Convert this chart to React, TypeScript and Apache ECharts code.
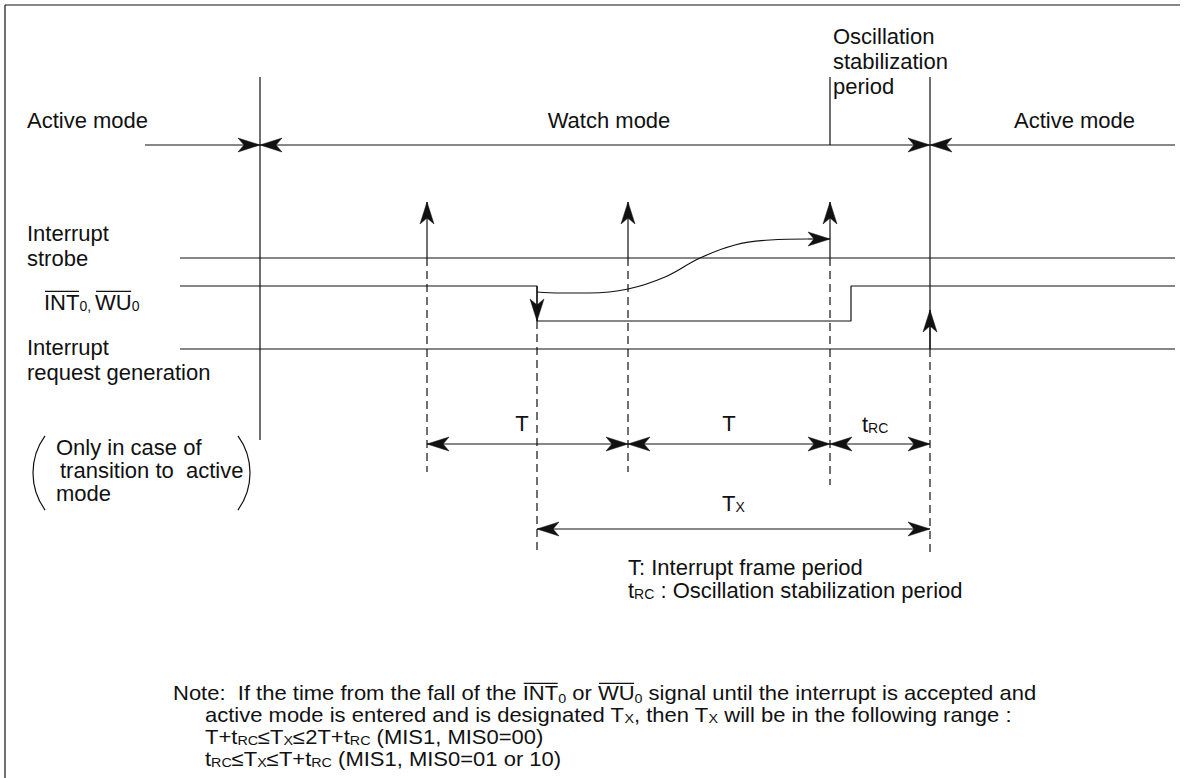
import { useEffect, useRef } from 'react';
import * as echarts from 'echarts';

const W = 1187;
const H = 778;
const FAMILY = '"Liberation Sans", Arial, Helvetica, sans-serif';
const INK = '#111';
const FS = 22;
const SUB = 14;
const NOTE_FS = 20;
const NOTE_SUB = 13;
const NOTE_SX = 1.1;

// ---- timeline positions (x units) ----
const modeEdges = [260, 930]; // enter watch mode, back to active mode
const oscStart = 830; // oscillation stabilization begins
const strobeTimes = [427, 628, 830]; // interrupt strobe pulses
const strobeDashEnds = [472, 472, 485];
const fallTime = 537; // INT0/WU0 falls
const riseTime = 851; // INT0/WU0 rises
const requestTime = 930; // interrupt request generated
const lineStart = 180;
const modeLineStart = 145;
const lineEnd = 1175;
const boundaryTop = 77;
const leftBoundaryBottom = 440;
const strobeArrowTip = 202;
const requestArrowTip = 310;
const longDashEnd = 555;

// ---- signal levels (y units, top -> down) ----
const modeLevel = 145;
const strobeLevel = 258;
const intHigh = 286;
const intLow = 321;
const requestLevel = 349;
const dimLevels = [444, 529];

// INT0 / WU0 waveform
const intWaveX = [lineStart, fallTime, fallTime, riseTime, riseTime, lineEnd];
const intWaveY = [intHigh, intHigh, intLow, intLow, intHigh, intHigh];

// curve from the falling edge to the strobe that samples it
const curveX = [537, 560, 590, 628, 665, 700, 735, 770, 808];
const curveY = [292, 293, 293, 289, 277, 258, 245, 240, 239];

let mctx: CanvasRenderingContext2D | null = null;
function measure(t: string, s: number): number {
  if (!mctx) mctx = document.createElement('canvas').getContext('2d');
  if (!mctx) return t.length * s * 0.5;
  mctx.font = `${s}px ${FAMILY}`;
  return mctx.measureText(t).width;
}

type Run = { t: string; s?: number; dy?: number; over?: boolean };

function textEl(x: number, y: number, text: string, s: number, align = 'left', va = 'middle', sx = 1) {
  return {
    type: 'text',
    x,
    y,
    scaleX: sx,
    silent: true,
    style: {
      text,
      fontSize: s,
      fontFamily: FAMILY,
      fill: INK,
      align,
      verticalAlign: va,
      textAlign: align,
      textVerticalAlign: va,
    },
  };
}

// lay out runs on one line; y = vertical middle of the base-size text
function runLine(x: number, y: number, runs: Run[], base = FS, sx = 1): any[] {
  const els: any[] = [];
  let cx = x;
  const yb = y + base / 2; // bottom of base-size box
  for (const r of runs) {
    const s = r.s ?? base;
    const w = measure(r.t, s) * sx;
    els.push(textEl(cx, yb + (r.dy ?? 0), r.t, s, 'left', 'bottom', sx));
    if (r.over) {
      const oy = yb - s * 0.98;
      els.push({
        type: 'line',
        silent: true,
        shape: { x1: cx + 1, y1: oy, x2: cx + w - 0.5, y2: oy },
        style: { stroke: INK, lineWidth: 1.2 },
      });
    }
    cx += w;
  }
  return els;
}

function buildSegments(): number[][] {
  const segs: number[][] = [];
  // [x1, y1, x2, y2, headAtStart, headAtEnd, dashed]
  segs.push([modeEdges[0], boundaryTop, modeEdges[0], leftBoundaryBottom, 0, 0, 0]);
  segs.push([oscStart, boundaryTop, oscStart, modeLevel, 0, 0, 0]);
  segs.push([modeEdges[1], boundaryTop, modeEdges[1], requestLevel, 0, 0, 0]);
  segs.push([modeLineStart, modeLevel, modeEdges[0], modeLevel, 0, 1, 0]);
  segs.push([modeEdges[0], modeLevel, modeEdges[1], modeLevel, 1, 1, 0]);
  segs.push([modeEdges[1], modeLevel, lineEnd, modeLevel, 1, 0, 0]);
  strobeTimes.forEach((t, i) => {
    segs.push([t, strobeLevel, t, strobeArrowTip, 0, 1, 0]);
    segs.push([t, strobeLevel, t, strobeDashEnds[i], 0, 0, 1]);
  });
  segs.push([fallTime, intHigh, fallTime, intLow, 0, 1, 0]);
  segs.push([fallTime, intLow, fallTime, longDashEnd, 0, 0, 1]);
  segs.push([requestTime, requestLevel, requestTime, requestArrowTip, 0, 1, 0]);
  segs.push([requestTime, requestLevel, requestTime, longDashEnd, 0, 0, 1]);
  const cl = curveX.length - 1;
  segs.push([curveX[cl], curveY[cl], strobeTimes[2], curveY[cl], 0, 1, 0]);
  // dimension arrows
  segs.push([strobeTimes[0], dimLevels[0], strobeTimes[1], dimLevels[0], 1, 1, 0]);
  segs.push([strobeTimes[1], dimLevels[0], strobeTimes[2], dimLevels[0], 1, 1, 0]);
  segs.push([strobeTimes[2], dimLevels[0], requestTime, dimLevels[0], 1, 1, 0]);
  segs.push([fallTime, dimLevels[1], requestTime, dimLevels[1], 1, 1, 0]);
  return segs;
}

function arrowHead(tip: number[], from: number[]) {
  const dx = tip[0] - from[0];
  const dy = tip[1] - from[1];
  const len = Math.hypot(dx, dy) || 1;
  const ux = dx / len;
  const uy = dy / len;
  const nx = -uy;
  const ny = ux;
  const L = 22;
  const Wd = 7;
  const N = 6;
  const bx = tip[0] - ux * L;
  const by = tip[1] - uy * L;
  return {
    type: 'polygon',
    shape: {
      points: [
        [tip[0], tip[1]],
        [bx + nx * Wd, by + ny * Wd],
        [tip[0] - ux * (L - N), tip[1] - uy * (L - N)],
        [bx - nx * Wd, by - ny * Wd],
      ],
    },
    style: { fill: INK, stroke: INK, lineWidth: 0.5 },
  };
}

function buildGraphics(): any[] {
  const g: any[] = [];
  // frame
  g.push({ type: 'line', silent: true, shape: { x1: 5, y1: 5, x2: 1180, y2: 5 }, style: { stroke: INK, lineWidth: 1.2 } });
  g.push({ type: 'line', silent: true, shape: { x1: 5, y1: 5, x2: 5, y2: H }, style: { stroke: INK, lineWidth: 1.2 } });

  // top labels
  g.push(textEl(27, 120, 'Active mode', FS));
  g.push(textEl(609, 120, 'Watch mode', FS, 'center'));
  g.push(textEl(1014, 120, 'Active mode', FS));
  g.push(textEl(833, 36, 'Oscillation', FS));
  g.push(textEl(833, 61, 'stabilization', FS));
  g.push(textEl(833, 86, 'period', FS));

  // signal labels
  g.push(textEl(27, 233, 'Interrupt', FS));
  g.push(textEl(27, 258, 'strobe', FS));
  g.push(...runLine(44, 302, [
    { t: 'INT', over: true },
    { t: '0', s: SUB },
    { t: ', ', s: SUB },
    { t: 'WU', over: true },
    { t: '0', s: SUB },
  ]));
  g.push(textEl(27, 347, 'Interrupt', FS));
  g.push(textEl(27, 372, 'request generation', FS));

  // parenthesised remark
  g.push(textEl(56, 447, 'Only in case of', FS));
  g.push(textEl(60, 470, 'transition to  active', FS));
  g.push(textEl(56, 493, 'mode', FS));
  g.push({ type: 'arc', silent: true, shape: { cx: 96, cy: 473, r: 63, startAngle: (144 * Math.PI) / 180, endAngle: (216 * Math.PI) / 180, clockwise: true }, style: { stroke: INK, fill: 'none', lineWidth: 1.2 } });
  g.push({ type: 'arc', silent: true, shape: { cx: 187, cy: 473, r: 63, startAngle: (-36 * Math.PI) / 180, endAngle: (36 * Math.PI) / 180, clockwise: true }, style: { stroke: INK, fill: 'none', lineWidth: 1.2 } });

  // dimension labels
  g.push(textEl(522, 423, 'T', FS, 'center'));
  g.push(textEl(729, 423, 'T', FS, 'center'));
  g.push(...runLine(862, 424, [{ t: 't' }, { t: 'RC', s: SUB }]));
  g.push(...runLine(722, 503, [{ t: 'T' }, { t: 'X', s: SUB }]));

  // legend of symbols
  g.push(textEl(628, 567, 'T: Interrupt frame period', FS));
  g.push(...runLine(628, 590, [{ t: 't' }, { t: 'RC', s: SUB }, { t: ' : Oscillation stabilization period' }]));

  // note
  g.push(...runLine(173, 693, [
    { t: 'Note:  If the time from the fall of the ' },
    { t: 'INT', over: true },
    { t: '0', s: NOTE_SUB, dy: 2 },
    { t: ' or ' },
    { t: 'WU', over: true },
    { t: '0', s: NOTE_SUB, dy: 2 },
    { t: ' signal until the interrupt is accepted and' },
  ], NOTE_FS, NOTE_SX));
  g.push(...runLine(205, 715, [
    { t: 'active mode is entered and is designated T' },
    { t: 'X', s: NOTE_SUB },
    { t: ', then T' },
    { t: 'X', s: NOTE_SUB },
    { t: ' will be in the following range :' },
  ], NOTE_FS, NOTE_SX));
  g.push(...runLine(205, 737, [
    { t: 'T+t' },
    { t: 'RC', s: NOTE_SUB },
    { t: '≤T' },
    { t: 'X', s: NOTE_SUB },
    { t: '≤2T+t' },
    { t: 'RC', s: NOTE_SUB },
    { t: ' (MIS1, MIS0=00)' },
  ], NOTE_FS, NOTE_SX));
  g.push(...runLine(205, 759, [
    { t: 't' },
    { t: 'RC', s: NOTE_SUB },
    { t: '≤T' },
    { t: 'X', s: NOTE_SUB },
    { t: '≤T+t' },
    { t: 'RC', s: NOTE_SUB },
    { t: ' (MIS1, MIS0=01 or 10)' },
  ], NOTE_FS, NOTE_SX));
  return g;
}

export default function App() {
  const ref = useRef<HTMLDivElement>(null);
  useEffect(() => {
    if (!ref.current) return;
    document.body.style.margin = '0';
    const chart = echarts.init(ref.current, null, { renderer: 'svg' });
    const lineStyle = { color: INK, width: 1.2 };
    const flat = (level: number) => [
      [lineStart, level],
      [lineEnd, level],
    ];
    chart.setOption({
      animation: false,
      backgroundColor: '#fff',
      grid: { left: 0, right: 0, top: 0, bottom: 0, containLabel: false },
      xAxis: { type: 'value', min: 0, max: W, show: false },
      yAxis: { type: 'value', min: 0, max: H, inverse: true, show: false },
      series: [
        { name: 'Interrupt strobe', type: 'line', data: flat(strobeLevel), symbol: 'none', lineStyle, silent: true },
        { name: 'Interrupt request generation', type: 'line', data: flat(requestLevel), symbol: 'none', lineStyle, silent: true },
        {
          name: 'INT0, WU0',
          type: 'line',
          data: intWaveX.map((x, i) => [x, intWaveY[i]]),
          symbol: 'none',
          lineStyle,
          silent: true,
        },
        {
          name: 'sampling',
          type: 'line',
          data: curveX.map((x, i) => [x, curveY[i]]),
          symbol: 'none',
          smooth: 0.4,
          lineStyle,
          silent: true,
        },
        {
          name: 'arrows',
          type: 'custom',
          silent: true,
          clip: false,
          encode: { x: [0, 2], y: [1, 3] },
          data: buildSegments(),
          renderItem: (_params: any, api: any) => {
            const p1 = api.coord([api.value(0), api.value(1)]);
            const p2 = api.coord([api.value(2), api.value(3)]);
            const dashed = api.value(6) === 1;
            const children: any[] = [
              {
                type: 'line',
                shape: { x1: p1[0], y1: p1[1], x2: p2[0], y2: p2[1] },
                style: { stroke: INK, lineWidth: 1.2, lineDash: dashed ? [8, 5] : null },
              },
            ];
            if (api.value(4) === 1) children.push(arrowHead(p1, p2));
            if (api.value(5) === 1) children.push(arrowHead(p2, p1));
            return { type: 'group', children };
          },
        },
      ],
      graphic: buildGraphics(),
    });
    return () => chart.dispose();
  }, []);
  return <div ref={ref} style={{ position: 'absolute', left: 0, top: 0, width: W, height: H, background: '#fff' }} />;
}
